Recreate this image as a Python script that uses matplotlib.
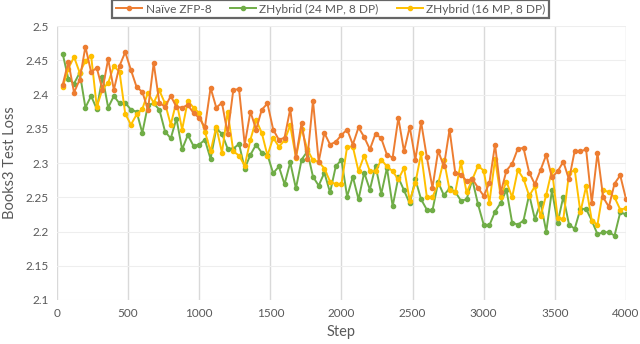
import numpy as np
import matplotlib
matplotlib.use("Agg")
import matplotlib.pyplot as plt

plt.rcParams['font.family'] = ['Lato', 'DejaVu Sans']

# шаги обучения (каждые 40 шагов)
steps = np.arange(40, 4001, 40)

naive_zfp8 = [
    2.414, 2.448, 2.403, 2.422, 2.470, 2.433, 2.439, 2.407, 2.452, 2.407,
    2.442, 2.462, 2.436, 2.411, 2.404, 2.378, 2.446, 2.388, 2.382, 2.398,
    2.382, 2.381, 2.385, 2.373, 2.366, 2.352, 2.410, 2.381, 2.388, 2.343,
    2.407, 2.408, 2.327, 2.375, 2.349, 2.378, 2.387, 2.349, 2.334, 2.337,
    2.379, 2.309, 2.359, 2.306, 2.391, 2.302, 2.344, 2.327, 2.331, 2.341,
    2.349, 2.327, 2.352, 2.338, 2.320, 2.343, 2.336, 2.312, 2.308, 2.366,
    2.317, 2.353, 2.305, 2.360, 2.309, 2.264, 2.318, 2.295, 2.349, 2.286,
    2.283, 2.274, 2.277, 2.264, 2.252, 2.271, 2.327, 2.257, 2.289, 2.299,
    2.321, 2.322, 2.286, 2.269, 2.290, 2.312, 2.279, 2.288, 2.302, 2.276,
    2.318, 2.317, 2.320, 2.242, 2.315, 2.250, 2.236, 2.270, 2.282, 2.248,
]

zhybrid_24mp = [
    2.460, 2.423, 2.416, 2.432, 2.381, 2.398, 2.379, 2.426, 2.381, 2.398,
    2.387, 2.388, 2.378, 2.375, 2.344, 2.385, 2.387, 2.378, 2.346, 2.336,
    2.365, 2.320, 2.341, 2.325, 2.327, 2.334, 2.306, 2.350, 2.343, 2.321,
    2.321, 2.328, 2.292, 2.312, 2.327, 2.315, 2.312, 2.285, 2.295, 2.269,
    2.301, 2.263, 2.305, 2.317, 2.280, 2.267, 2.286, 2.257, 2.295, 2.305,
    2.251, 2.280, 2.247, 2.286, 2.261, 2.296, 2.255, 2.293, 2.237, 2.279,
    2.260, 2.241, 2.276, 2.247, 2.232, 2.231, 2.272, 2.253, 2.263, 2.258,
    2.245, 2.247, 2.276, 2.240, 2.210, 2.209, 2.229, 2.242, 2.261, 2.213,
    2.210, 2.216, 2.254, 2.218, 2.242, 2.200, 2.260, 2.213, 2.251, 2.210,
    2.204, 2.233, 2.233, 2.216, 2.196, 2.199, 2.199, 2.194, 2.228, 2.225,
]

zhybrid_16mp = [
    2.411, 2.438, 2.455, 2.432, 2.449, 2.457, 2.382, 2.408, 2.417, 2.442,
    2.433, 2.372, 2.356, 2.371, 2.379, 2.403, 2.388, 2.406, 2.387, 2.356,
    2.390, 2.349, 2.391, 2.381, 2.373, 2.346, 2.317, 2.353, 2.315, 2.375,
    2.317, 2.311, 2.296, 2.334, 2.363, 2.344, 2.311, 2.337, 2.324, 2.333,
    2.355, 2.308, 2.350, 2.320, 2.304, 2.302, 2.292, 2.273, 2.269, 2.269,
    2.324, 2.324, 2.288, 2.311, 2.288, 2.288, 2.305, 2.295, 2.288, 2.276,
    2.293, 2.245, 2.271, 2.314, 2.251, 2.250, 2.270, 2.305, 2.261, 2.257,
    2.301, 2.257, 2.276, 2.296, 2.289, 2.242, 2.306, 2.251, 2.273, 2.250,
    2.290, 2.277, 2.252, 2.266, 2.222, 2.254, 2.290, 2.220, 2.218, 2.285,
    2.290, 2.228, 2.266, 2.216, 2.210, 2.260, 2.258, 2.250, 2.232, 2.234,
]

labels = ['Naïve ZFP-8', 'ZHybrid (24 MP, 8 DP)', 'ZHybrid (16 MP, 8 DP)']
colors = ['#ED7D31', '#70AD47', '#FFC000']

fig = plt.figure(figsize=(6.4, 3.44), dpi=100)
ax = fig.add_axes([0.089, 0.128, 0.889, 0.796])

# зелёная снизу, оранжевая сверху
l_green, = ax.plot(steps, zhybrid_24mp, '-o', color=colors[1], lw=1.4, ms=3, zorder=2)
l_yellow, = ax.plot(steps, zhybrid_16mp, '-o', color=colors[2], lw=1.4, ms=3, zorder=3)
l_orange, = ax.plot(steps, naive_zfp8, '-o', color=colors[0], lw=1.4, ms=3, zorder=4)

ax.set_xlim(0, 4000)
ax.set_ylim(2.1, 2.5)
ax.set_xticks(np.arange(0, 4001, 500))
ax.set_yticks(np.arange(2.1, 2.501, 0.05))
ax.set_yticklabels(['2.1', '2.15', '2.2', '2.25', '2.3', '2.35', '2.4', '2.45', '2.5'])

ax.xaxis.grid(True, color='#d9d9d9', lw=1)
ax.yaxis.grid(True, color='#eeeeee', lw=0.8)
ax.set_axisbelow(True)
for s in ax.spines.values():
    s.set_visible(False)
ax.tick_params(length=0, labelsize=8.5, colors='#595959', pad=6)

ax.set_xlabel('Step', fontsize=10.5, color='#595959', labelpad=4)
ax.set_ylabel('Books3 Test Loss', fontsize=10.5, color='#595959', labelpad=6)

leg = fig.legend([l_orange, l_green, l_yellow], labels, ncol=3,
                 loc='lower center', bbox_to_anchor=(0.517, 0.930),
                 fontsize=8.6, frameon=True, fancybox=False,
                 handlelength=2.2, columnspacing=1.5, handletextpad=0.3,
                 borderpad=0.3, labelcolor='#595959')
leg.get_frame().set_edgecolor('#404040')
leg.get_frame().set_linewidth(1.6)

fig.savefig('out.png', dpi=100)
